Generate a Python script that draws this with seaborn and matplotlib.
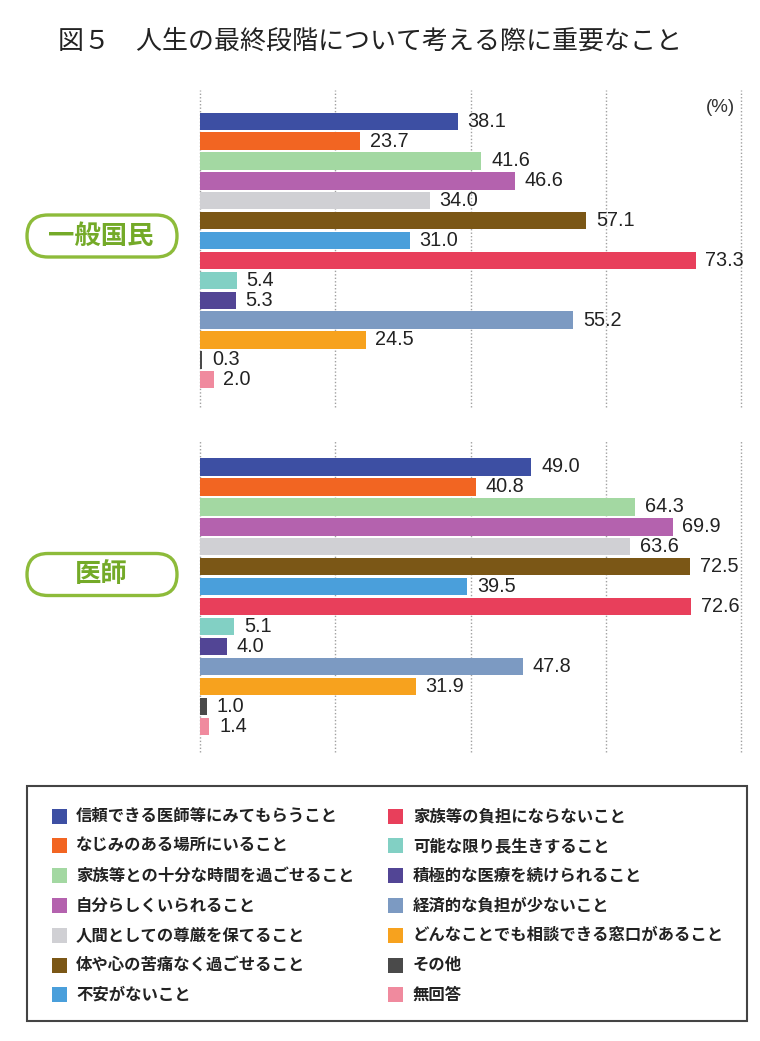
import matplotlib
matplotlib.use("Agg")
import matplotlib.pyplot as plt
import seaborn as sns
import pandas as pd
from matplotlib.patches import Rectangle, FancyBboxPatch

sns.set_style("white")
plt.rcParams['font.family'] = ['Noto Sans CJK JP', 'DejaVu Sans']

title = "図５　人生の最終段階について考える際に重要なこと"
categories = [
    "信頼できる医師等にみてもらうこと",
    "なじみのある場所にいること",
    "家族等との十分な時間を過ごせること",
    "自分らしくいられること",
    "人間としての尊厳を保てること",
    "体や心の苦痛なく過ごせること",
    "不安がないこと",
    "家族等の負担にならないこと",
    "可能な限り長生きすること",
    "積極的な医療を続けられること",
    "経済的な負担が少ないこと",
    "どんなことでも相談できる窓口があること",
    "その他",
    "無回答",
]
general_public = [38.1, 23.7, 41.6, 46.6, 34.0, 57.1, 31.0, 73.3, 5.4, 5.3, 55.2, 24.5, 0.3, 2.0]
doctors = [49.0, 40.8, 64.3, 69.9, 63.6, 72.5, 39.5, 72.6, 5.1, 4.0, 47.8, 31.9, 1.0, 1.4]
group_labels = ["一般国民", "医師"]
colors = [
    "#3D4FA3", "#F26522", "#A3D8A2", "#B462AE", "#D0D0D4", "#7B5716", "#4A9FDB",
    "#E83F5B", "#82D0C4", "#524595", "#7C9AC2", "#F7A21E", "#4A4A4A", "#F08A9E",
]

W, H = 760, 1041
fig = plt.figure(figsize=(W / 100, H / 100), dpi=100)

def px_axes(x0, y0, x1, y1):
    return fig.add_axes([x0 / W, 1 - y1 / H, (x1 - x0) / W, (y1 - y0) / H])

panels = [
    (general_public, (90, 407), (14.37, -1.57)),
    (doctors, (440, 752), (14.28, -1.35)),
]
for values, (ytop, ybot), ylim in panels:
    ax = px_axes(200, ytop, 741, ybot)
    df = pd.DataFrame({"cat": categories, "val": values})
    sns.barplot(data=df, x="val", y="cat", hue="cat", order=categories,
                hue_order=categories, palette=colors, legend=False,
                width=0.87, orient="h", saturation=1, ax=ax, linewidth=0)
    for cont in ax.containers:
        ax.bar_label(cont, fmt="%.1f", padding=7, fontsize=14.3,
                     family="Liberation Sans", color="#222222")
    ax.set_xlim(0, 80)
    ax.set_ylim(*ylim)
    ax.set_xticks([0, 20, 40, 60, 80])
    ax.grid(axis="x", linestyle=(0, (1, 1.5)), color="#A0A0A0", linewidth=1.0)
    ax.grid(axis="y", visible=False)
    ax.tick_params(left=False, bottom=False, labelleft=False, labelbottom=False)
    ax.set_xlabel("")
    ax.set_ylabel("")
    for s in ax.spines.values():
        s.set_visible(False)
    for gl in ax.get_xgridlines():
        gl.set_clip_on(False)

# overlay in pixel coordinates for title, group labels and legend
ov = fig.add_axes([0, 0, 1, 1], zorder=5)
ov.set_xlim(0, W)
ov.set_ylim(H, 0)
ov.axis("off")
ov.patch.set_alpha(0)

ov.text(58, 41, title, fontsize=18.7, color="#222222", ha="left", va="center")
ov.text(735, 108, "(%)", fontsize=13.5, family="Liberation Sans",
        color="#333333", ha="right", va="center")

for lbl, cy in zip(group_labels, [236, 574.5]):
    box = FancyBboxPatch((27, cy - 21), 150, 42,
                         boxstyle="round,pad=0,rounding_size=21",
                         facecolor="white", edgecolor="#8DBB3A", linewidth=2.4)
    ov.add_patch(box)
    ov.text(101, cy, lbl, fontsize=19, fontweight="bold", color="#74AA28",
            ha="center", va="center")

# legend
ov.add_patch(Rectangle((27, 786), 720, 235, facecolor="none",
                       edgecolor="#444444", linewidth=1.5))
for i, (cat, col) in enumerate(zip(categories, colors)):
    c, r = divmod(i, 7)
    cy = 816 + 29.8 * r
    sx = 52 if c == 0 else 388
    tx = 76 if c == 0 else 413
    ov.add_patch(Rectangle((sx, cy - 7.5), 15, 15, facecolor=col, edgecolor="none"))
    ov.text(tx, cy, cat, fontsize=11.8, fontweight="bold", color="#222222",
            ha="left", va="center")

fig.savefig("out.png", dpi=100)
